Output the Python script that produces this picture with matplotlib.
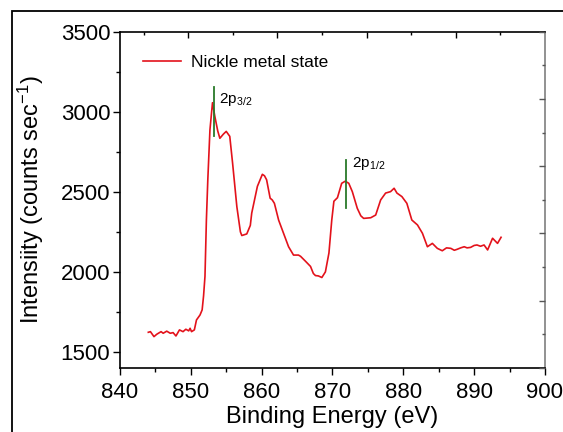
import matplotlib
matplotlib.use("Agg")
from matplotlib import pyplot as plt
from matplotlib.patches import Rectangle
from matplotlib.ticker import MultipleLocator, FixedLocator

plt.rcParams['font.family'] = ['Liberation Sans', 'DejaVu Sans']
plt.rcParams['mathtext.default'] = 'regular'

# Ni 2p spectrum
energy = [844.0, 844.3, 844.8, 845.2, 845.8, 846.1, 846.6, 847.1, 847.5, 847.9,
          848.4, 848.9, 849.3, 849.7, 849.9, 850.1, 850.5, 850.8, 851.3, 851.6,
          851.8, 852.0, 852.2, 852.4, 852.7, 853.06, 853.4, 853.8, 854.1, 854.6,
          855.0, 855.5, 855.9, 856.5, 857.0, 857.2, 857.9, 858.4, 858.6, 859.4,
          860.1, 860.4, 860.7, 861.2, 861.5, 861.8, 862.4, 863.1, 863.8, 864.5,
          865.2, 865.5, 866.2, 866.9, 867.3, 867.6, 868.0, 868.5, 869.0, 869.5,
          869.9, 870.2, 870.7, 871.3, 871.8, 872.3, 872.8, 873.5, 874.0, 874.4,
          875.4, 876.1, 876.8, 877.5, 878.2, 878.7, 879.1, 879.8, 880.5, 881.2,
          882.0, 882.7, 883.4, 884.1, 884.8, 885.5, 886.1, 886.7, 887.2, 887.6,
          888.1, 888.6, 889.0, 889.5, 890.0, 890.4, 890.9, 891.4, 891.9, 892.6,
          893.3, 893.8]
counts = [1623, 1627, 1596, 1611, 1627, 1617, 1630, 1617, 1621, 1600,
          1638, 1627, 1642, 1632, 1648, 1627, 1638, 1700, 1731, 1763,
          1850, 1972, 2324, 2575, 2886, 3056, 2969, 2880, 2834, 2860,
          2877, 2846, 2678, 2407, 2250, 2227, 2237, 2290, 2367, 2534,
          2609, 2600, 2575, 2460, 2449, 2428, 2323, 2240, 2157, 2105,
          2105, 2097, 2066, 2034, 1990, 1977, 1975, 1965, 2000, 2118,
          2324, 2441, 2463, 2553, 2566, 2553, 2501, 2397, 2350, 2334,
          2338, 2355, 2449, 2492, 2501, 2522, 2492, 2470, 2428, 2324,
          2293, 2241, 2157, 2178, 2147, 2132, 2150, 2147, 2135, 2141,
          2150, 2157, 2150, 2153, 2165, 2168, 2160, 2168, 2137, 2210,
          2178, 2216]

peak_names = ['2p$_{3/2}$', '2p$_{1/2}$']
peak_pos = [853.25, 871.9]
peak_lo = [2850, 2400]
peak_hi = [3155, 2700]
label_x = [854.05, 872.75]
label_y = [3056, 2657]

# odd tick marks on the top / right frame (own scales, no labels)
top_major = [1, 3, 5, 7]
top_minor = [0, 2, 4, 6, 8]
right_major = [0, 2, 4, 6, 8, 10]
right_minor = [1, 3, 5, 7, 9]

fig = plt.figure(figsize=(5.63, 4.32), dpi=100)
ax = fig.add_axes([0.2131, 0.1481, 0.7549, 0.7788])

ax.plot(energy, counts, color='#e3121b', lw=1.2, label='Nickle metal state')
for i in range(len(peak_pos)):
    ax.plot([peak_pos[i], peak_pos[i]], [peak_lo[i], peak_hi[i]], color='#2a7a2a', lw=1.3)
    ax.text(label_x[i], label_y[i], peak_names[i], fontsize=11, va='baseline', ha='left')

ax.set_xlim(840, 900)
ax.set_ylim(1400, 3500)
ax.xaxis.set_major_locator(MultipleLocator(10))
ax.xaxis.set_minor_locator(MultipleLocator(5))
ax.yaxis.set_major_locator(FixedLocator([1500, 2000, 2500, 3000, 3500]))
ax.yaxis.set_minor_locator(FixedLocator([1750, 2250, 2750, 3250]))
ax.tick_params(which='major', direction='out', length=5, width=1, labelsize=16, top=False, right=False)
ax.tick_params(which='minor', direction='out', length=3, width=1, top=False, right=False)
ax.tick_params(axis='y', pad=2)
ax.tick_params(axis='x', pad=5)
for s in ['left', 'bottom', 'top']:
    ax.spines[s].set_linewidth(1.2)
ax.spines['right'].set_color('#7f7f7f')
ax.spines['right'].set_linewidth(1.2)

ax.set_xlabel('Binding Energy (eV)', fontsize=17, labelpad=2)
ax.set_ylabel('Intensiity (counts sec$^{-1}$)', fontsize=17)
ax.yaxis.set_label_coords(-0.174, 0.5)

ax.legend(loc='center left', bbox_to_anchor=(0.054, 0.908), frameon=False, fontsize=12.5,
          handlelength=2.2, handletextpad=0.55, borderpad=0, borderaxespad=0)

# top frame ticks
axt = ax.twiny()
axt.set_xlim(-0.533, 9.0)
axt.xaxis.set_major_locator(FixedLocator(top_major))
axt.xaxis.set_minor_locator(FixedLocator(top_minor))
axt.tick_params(which='major', direction='in', length=4, width=1, labeltop=False)
axt.tick_params(which='minor', direction='in', length=2.5, width=1)
# right frame ticks
axr = ax.twinx()
axr.set_ylim(0, 10)
axr.yaxis.set_major_locator(FixedLocator(right_major))
axr.yaxis.set_minor_locator(FixedLocator(right_minor))
axr.tick_params(which='major', direction='in', length=4, width=1, labelright=False, color='#555555')
axr.tick_params(which='minor', direction='in', length=2.5, width=1, color='#555555')
for a in (axt, axr):
    for s in a.spines.values():
        s.set_visible(False)

# outer frame of the cut-out
fig.add_artist(Rectangle((12 / 563, -0.2), 2, 0.9745 + 0.2, transform=fig.transFigure,
                         fill=False, ec='black', lw=1.3))

fig.savefig('out.png', dpi=100)
